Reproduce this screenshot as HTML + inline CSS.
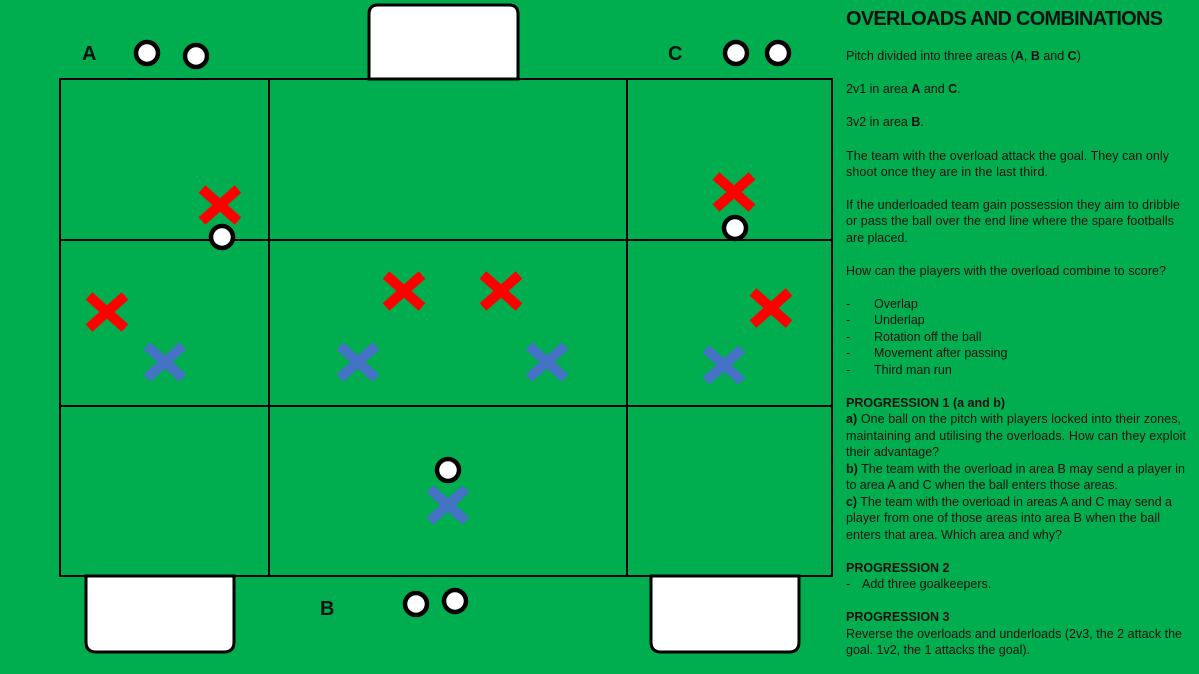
<!DOCTYPE html>
<html><head><meta charset="utf-8"><style>
html,body{margin:0;padding:0;background:#00ae4f;}
svg{display:block;font-family:"Liberation Sans",sans-serif;}
.t{font-size:12.5px;fill:#111;}
.b{font-weight:bold;}
</style></head><body>
<svg width="1199" height="674" viewBox="0 0 1199 674">
<rect width="1199" height="674" fill="#00ae4f"/>
<g fill="#fff" stroke="#000" stroke-width="3">
<path d="M369,79 V14 Q369,5 378,5 H509 Q518,5 518,14 V79 Z"/>
<path d="M86,576 V642 Q86,652 96,652 H224 Q234,652 234,642 V576 Z"/>
<path d="M651,576 V642 Q651,652 661,652 H789 Q799,652 799,642 V576 Z"/>
</g>
<g fill="none" stroke="#000" stroke-width="2">
<rect x="60" y="79" width="772" height="497"/>
<line x1="269" y1="79" x2="269" y2="576"/>
<line x1="627" y1="79" x2="627" y2="576"/>
<line x1="60" y1="240" x2="832" y2="240"/>
<line x1="60" y1="406" x2="832" y2="406"/>
</g>
<g stroke-width="10" stroke="#ff0000">
<path d="M202,189 L238,221 M238,189 L202,221"/>
<path d="M89,296 L125,328 M125,296 L89,328"/>
<path d="M386,275 L422,307 M422,275 L386,307"/>
<path d="M483,275 L519,307 M519,275 L483,307"/>
<path d="M716,176 L752,208 M752,176 L716,208"/>
<path d="M753,292 L789,324 M789,292 L753,324"/>
</g>
<g stroke-width="10" stroke="#4472c4">
<path d="M147,346 L183,378 M183,346 L147,378"/>
<path d="M340,346 L376,378 M376,346 L340,378"/>
<path d="M529,346 L565,378 M565,346 L529,378"/>
<path d="M706,349 L742,381 M742,349 L706,381"/>
<path d="M430,489 L466,521 M466,489 L430,521"/>
</g>
<g fill="#fff" stroke="#000" stroke-width="4.5">
<circle cx="147" cy="53" r="11"/><circle cx="196" cy="56" r="11"/>
<circle cx="736" cy="53" r="11"/><circle cx="778" cy="53" r="11"/>
<circle cx="222" cy="237" r="11"/><circle cx="735" cy="228" r="11"/>
<circle cx="448" cy="470" r="11"/><circle cx="416" cy="604" r="11"/>
<circle cx="455" cy="601" r="11"/>
</g>
<g font-size="20" font-weight="bold" fill="#111" dominant-baseline="central">
<text x="82" y="54">A</text><text x="668" y="54">C</text><text x="320" y="609">B</text>
</g>
<text x="846" y="19" font-size="20" font-weight="bold" fill="#111" dominant-baseline="central" textLength="317">OVERLOADS AND COMBINATIONS</text>
<g class="t" dominant-baseline="central">
<text x="846" y="56">Pitch divided into three areas (<tspan class="b">A</tspan>, <tspan class="b">B</tspan> and <tspan class="b">C</tspan>)</text>
<text x="846" y="89">2v1 in area <tspan class="b">A</tspan> and <tspan class="b">C</tspan>.</text>
<text x="846" y="122">3v2 in area <tspan class="b">B</tspan>.</text>
<text x="846" y="156" textLength="323">The team with the overload attack the goal. They can only</text>
<text x="846" y="172" textLength="202">shoot once they are in the last third.</text>
<text x="846" y="205" textLength="334">If the underloaded team gain possession they aim to dribble</text>
<text x="846" y="221" textLength="328">or pass the ball over the end line where the spare footballs</text>
<text x="846" y="238">are placed.</text>
<text x="846" y="271" textLength="320">How can the players with the overload combine to score?</text>
<text x="846" y="304">-</text><text x="874" y="304">Overlap</text>
<text x="846" y="320">-</text><text x="874" y="320">Underlap</text>
<text x="846" y="337">-</text><text x="874" y="337">Rotation off the ball</text>
<text x="846" y="353">-</text><text x="874" y="353">Movement after passing</text>
<text x="846" y="370">-</text><text x="874" y="370">Third man run</text>
<text x="846" y="403" class="b">PROGRESSION 1 (a and b)</text>
<text x="846" y="419" textLength="335"><tspan class="b">a)</tspan> One ball on the pitch with players locked into their zones,</text>
<text x="846" y="436" textLength="340">maintaining and utilising the overloads. How can they exploit</text>
<text x="846" y="452">their advantage?</text>
<text x="846" y="469" textLength="339"><tspan class="b">b)</tspan> The team with the overload in area B may send a player in</text>
<text x="846" y="485" textLength="272">to area A and C when the ball enters those areas.</text>
<text x="846" y="502" textLength="326"><tspan class="b">c)</tspan> The team with the overload in areas A and C may send a</text>
<text x="846" y="518" textLength="314">player from one of those areas into area B when the ball</text>
<text x="846" y="535" textLength="216">enters that area. Which area and why?</text>
<text x="846" y="568" class="b">PROGRESSION 2</text>
<text x="846" y="584">-</text><text x="862" y="584">Add three goalkeepers.</text>
<text x="846" y="617" class="b">PROGRESSION 3</text>
<text x="846" y="634" textLength="336">Reverse the overloads and underloads (2v3, the 2 attack the</text>
<text x="846" y="650" textLength="184">goal. 1v2, the 1 attacks the goal).</text>
</g>
</svg>
</body></html>
